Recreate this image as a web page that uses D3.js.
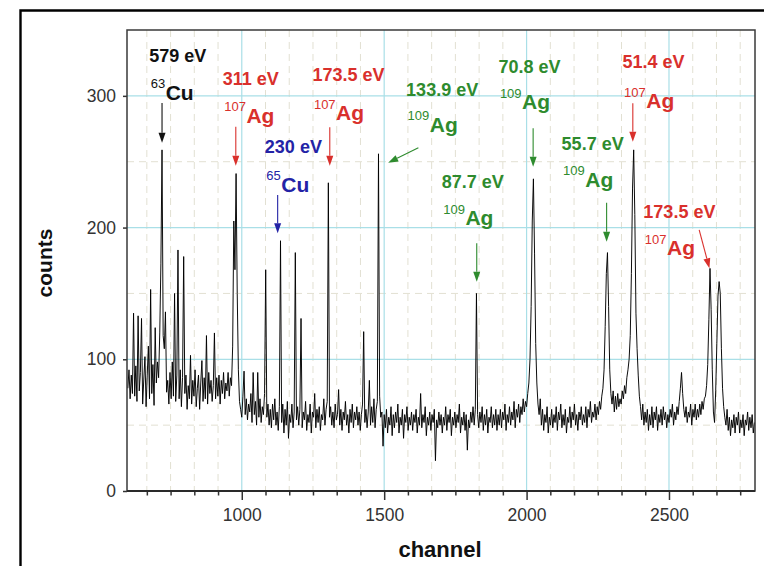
<!DOCTYPE html>
<html>
<head>
<meta charset="utf-8">
<script src="https://cdn.jsdelivr.net/npm/d3@7"></script>
<style>
  html, body { margin: 0; padding: 0; background: #fff; }
  svg { display: block; }
  text { font-family: "Liberation Sans", Arial, sans-serif; }
</style>
</head>
<body>
<svg id="chart" width="764" height="566"></svg>
<script>
// Spectrum: counts per channel, one value every 4 channels from channel 600
const channelStart = 600;
const channelStep = 4;
const counts = [
  78,92,70,88,74,135,72,95,68,133,76,90,131,66,85,102,64,88,110,70,153,74,96,65,124,
  82,98,86,120,173,259,118,108,136,75,84,66,90,70,98,72,150,68,88,183,70,92,64,86,178,
  74,88,62,80,70,103,66,84,72,92,64,78,88,62,82,99,68,86,70,118,66,90,74,84,68,
  80,120,70,86,72,88,66,84,74,90,70,82,76,90,72,86,80,110,205,168,241,150,92,68,62,
  56,72,91,58,70,54,66,60,74,52,90,58,68,50,90,56,70,52,64,58,74,168,56,66,50,
  62,48,66,54,70,50,60,46,64,190,52,66,44,62,50,68,40,58,52,66,48,60,181,54,64,
  50,62,131,48,60,54,68,46,58,52,66,44,60,56,74,48,62,52,64,46,58,54,70,50,62,
  68,234,56,64,50,60,48,66,54,58,77,50,62,46,60,54,68,50,58,44,62,52,66,48,60,
  54,64,50,60,46,58,66,121,52,62,48,60,84,50,64,52,70,48,62,68,256,72,56,60,34,
  58,48,62,44,56,50,64,42,58,48,60,52,66,44,56,50,62,40,58,52,64,46,56,50,60,
  46,58,52,62,44,56,50,74,48,58,52,64,42,56,50,60,46,58,52,62,23,54,48,60,50,
  58,44,56,50,64,46,58,52,62,42,56,50,60,48,58,52,66,44,56,50,60,46,58,31,54,
  48,60,52,64,50,62,150,58,48,60,52,64,46,58,50,62,44,56,52,64,48,58,50,62,46,
  58,50,62,48,60,54,66,46,58,52,64,50,60,54,68,48,62,56,66,52,64,58,70,60,68,
  64,74,82,100,140,205,237,180,112,82,66,58,70,50,62,46,58,52,64,44,56,50,62,48,58,
  52,64,46,60,54,66,48,58,50,62,44,56,52,64,48,60,54,66,50,58,46,60,54,64,50,
  58,52,64,48,62,56,68,52,60,56,66,54,64,58,68,62,72,78,92,125,165,181,140,92,74,
  66,76,60,72,62,74,64,70,66,76,70,80,74,86,92,100,118,165,230,259,210,135,108,88,72,
  64,54,66,50,60,52,62,46,58,50,64,48,60,54,64,46,58,52,62,50,64,54,60,48,58,
  52,62,56,66,50,60,54,64,58,68,78,90,74,62,56,64,52,60,56,66,50,62,56,66,54,
  62,56,66,58,68,62,70,72,80,96,130,169,138,92,60,52,76,112,148,159,150,108,78,64,56,
  50,62,46,56,42,54,48,58,44,56,50,60,44,54,48,58,42,54,50,60,46,56,48,58,44,
  52
];

// Axis ticks
const xTickValues = [1000, 1500, 2000, 2500];
const yTickValues = [0, 100, 200, 300];

// Identified lines: energy, isotope mass number, element
const lineEnergies = ["579 eV", "311 eV", "230 eV", "173.5 eV", "133.9 eV", "70.8 eV", "51.4 eV", "87.7 eV", "55.7 eV", "173.5 eV"];
const lineMasses   = ["63", "107", "65", "107", "109", "109", "107", "109", "109", "107"];
const lineElements = ["Cu", "Ag", "Cu", "Ag", "Ag", "Ag", "Ag", "Ag", "Ag", "Ag"];

// Label placement in data units (channel, counts) and arrow start/end points
const labelAnchors = [[675,325.5],[933,308.2],[1081,256.4],[1248,311.5],[1577,299.9],[1901,317.1],[2337,321.4],[1702,229.8],[2123,258.9],[2410,207.0]];
const isotopeRowOffsets = [37.7,37.7,38.4,39.3,35.7,36,40.6,36.7,36.7,36.7];
const arrowStarts = [[720,294.6],[979,276.6],[1126,224.7],[1309,276.1],[1620,260.6],[2023,275.4],[2373,294.3],[1825,188.1],[2281,218.9],[2606,198.2]];
const arrowEnds   = [[720,264.4],[979,247.0],[1126,195.6],[1309,247.0],[1514,249.2],[2023,246.2],[2373,265.2],[1825,158.9],[2281,189.3],[2642,169.1]];

const isotopeColor = {
  "63Cu": "#111111",
  "65Cu": "#2323a6",
  "107Ag": "#d9302c",
  "109Ag": "#2e8b2e"
};

const svg = d3.select("#chart");
const plot = { left: 127, right: 755, top: 30, bottom: 491 };

const x = d3.scaleLinear().domain([597, 2802]).range([plot.left, plot.right]);
const y = d3.scaleLinear().domain([0, 350]).range([plot.bottom, plot.top]);

// Outer frame
svg.append("path")
  .attr("d", "M20.5,566 V10.5 H764")
  .attr("fill", "none")
  .attr("stroke", "#000")
  .attr("stroke-width", 2.4);

// Grid
const minorStep = 500 / 6;
const xMinor = d3.range(-4, 22).filter(k => k % 6 !== 0).map(k => 1000 + k * minorStep);
const yMinor = [50, 150, 250];

const grid = svg.append("g");
grid.selectAll("line.xminor").data(xMinor).join("line")
  .attr("x1", d => x(d)).attr("x2", d => x(d))
  .attr("y1", plot.top).attr("y2", plot.bottom)
  .attr("stroke", "#e2e0d2").attr("stroke-width", 1).attr("stroke-dasharray", "7,5");
grid.selectAll("line.yminor").data(yMinor).join("line")
  .attr("x1", plot.left).attr("x2", plot.right)
  .attr("y1", d => y(d)).attr("y2", d => y(d))
  .attr("stroke", "#e2e0d2").attr("stroke-width", 1).attr("stroke-dasharray", "7,5");
grid.selectAll("line.xmajor").data(xTickValues).join("line")
  .attr("x1", d => x(d)).attr("x2", d => x(d))
  .attr("y1", plot.top).attr("y2", plot.bottom)
  .attr("stroke", "#a9dfe7").attr("stroke-width", 1.2);
grid.selectAll("line.ymajor").data(yTickValues.filter(v => v > 0)).join("line")
  .attr("x1", plot.left).attr("x2", plot.right)
  .attr("y1", d => y(d)).attr("y2", d => y(d))
  .attr("stroke", "#a9dfe7").attr("stroke-width", 1.2);

// Spectrum trace
svg.append("clipPath").attr("id", "plotClip")
  .append("rect")
  .attr("x", plot.left).attr("y", plot.top)
  .attr("width", plot.right - plot.left).attr("height", plot.bottom - plot.top);

const trace = d3.line()
  .x((d, i) => x(channelStart + i * channelStep))
  .y(d => y(d));

svg.append("path")
  .datum(counts)
  .attr("clip-path", "url(#plotClip)")
  .attr("d", trace)
  .attr("fill", "none")
  .attr("stroke", "#000")
  .attr("stroke-width", 0.95)
  .attr("stroke-linejoin", "miter");

// Axes
const xAxis = svg.append("g")
  .attr("transform", `translate(0,${plot.bottom})`)
  .call(d3.axisBottom(x).tickValues(xTickValues).tickSize(9).tickPadding(9).tickFormat(d3.format("d")));
const xAxisMinor = svg.append("g")
  .attr("transform", `translate(0,${plot.bottom})`)
  .call(d3.axisBottom(x).tickValues(xMinor).tickSize(4.5).tickFormat(""));
const yAxis = svg.append("g")
  .attr("transform", `translate(${plot.left},0)`)
  .call(d3.axisLeft(y).tickValues(yTickValues).tickSize(4).tickPadding(7).tickFormat(d3.format("d")));

[xAxis, xAxisMinor, yAxis].forEach(g => {
  g.select(".domain").remove();
  g.selectAll(".tick line").attr("stroke", "#333").attr("stroke-width", 1.5);
  g.selectAll(".tick text")
    .attr("fill", "#333")
    .style("font-family", '"Liberation Sans", Arial, sans-serif')
    .style("font-size", "17.5px");
});

// Plot frame
svg.append("rect")
  .attr("x", plot.left).attr("y", plot.top)
  .attr("width", plot.right - plot.left).attr("height", plot.bottom - plot.top)
  .attr("fill", "none").attr("stroke", "#3a3a3a").attr("stroke-width", 1.5);
svg.append("line")
  .attr("x1", plot.left).attr("x2", plot.right)
  .attr("y1", plot.bottom).attr("y2", plot.bottom)
  .attr("stroke", "#2a2a2a").attr("stroke-width", 2);

// Axis titles
svg.append("text")
  .attr("x", 440).attr("y", 557)
  .attr("text-anchor", "middle")
  .style("font-size", "22px").style("font-weight", "bold")
  .attr("fill", "#111")
  .text("channel");
svg.append("text")
  .attr("transform", "translate(51.5,263) rotate(-90)")
  .attr("text-anchor", "middle")
  .style("font-size", "21px").style("font-weight", "bold")
  .attr("fill", "#111")
  .text("counts");

// Line annotations
const notes = svg.append("g");
lineEnergies.forEach((energy, i) => {
  const color = isotopeColor[lineMasses[i] + lineElements[i]];
  const lx = x(labelAnchors[i][0]);
  const ly = y(labelAnchors[i][1]);

  notes.append("text")
    .attr("x", lx).attr("y", ly)
    .style("font-size", "18px").style("font-weight", "bold")
    .attr("fill", color)
    .text(energy);

  const rowY = ly + isotopeRowOffsets[i];
  const mass = notes.append("text")
    .attr("x", lx + 1.5).attr("y", rowY - 11.5)
    .style("font-size", "13px")
    .attr("fill", color)
    .text(lineMasses[i]);
  const w = mass.node().getComputedTextLength();
  notes.append("text")
    .attr("x", lx + 1.5 + w + 0.5).attr("y", rowY)
    .style("font-size", "21px").style("font-weight", "bold")
    .attr("fill", color)
    .text(lineElements[i]);

  // arrow
  const x1 = x(arrowStarts[i][0]), y1 = y(arrowStarts[i][1]);
  const x2 = x(arrowEnds[i][0]), y2 = y(arrowEnds[i][1]);
  const len = Math.hypot(x2 - x1, y2 - y1);
  const ux = (x2 - x1) / len, uy = (y2 - y1) / len;
  const headLen = 10, headHalf = 3.5;
  const bx = x2 - ux * headLen, by = y2 - uy * headLen;
  notes.append("line")
    .attr("x1", x1).attr("y1", y1).attr("x2", bx).attr("y2", by)
    .attr("stroke", color).attr("stroke-width", 1.1);
  notes.append("polygon")
    .attr("points", [[x2, y2], [bx - uy * headHalf, by + ux * headHalf], [bx + uy * headHalf, by - ux * headHalf]].map(p => p.join(",")).join(" "))
    .attr("fill", color);
});
</script>
</body>
</html>
